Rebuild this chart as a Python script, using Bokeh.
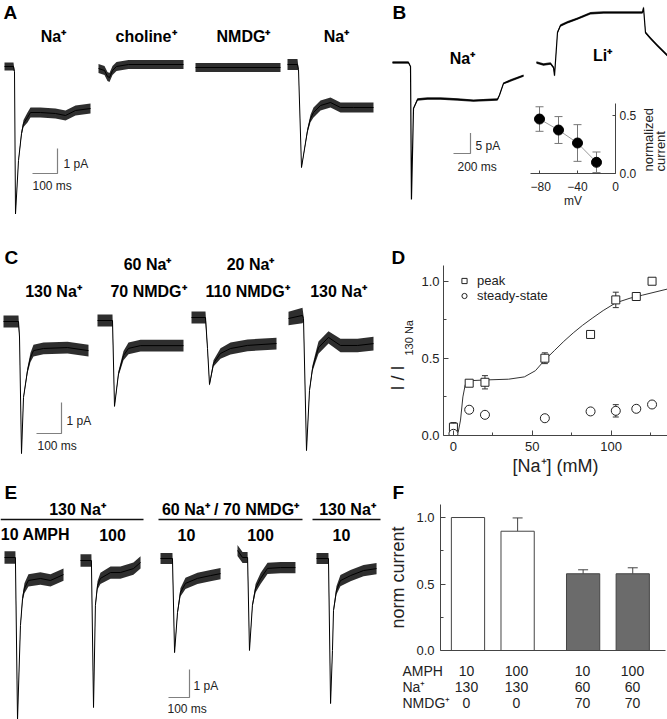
import math
from bokeh.plotting import figure
from bokeh.layouts import row, column
from bokeh.models import (Range1d, FixedTicker, NumeralTickFormatter, Whisker, TeeHead,
                          ColumnDataSource, Legend, LegendItem)
from bokeh.core.properties import value
from bokeh.embed import file_html
from bokeh.resources import INLINE

FONT = "Liberation Sans"
S = 1.0

# ---------------- data ----------------
# traces: time (ms), current (pA), noise half-width (pA)
A1_t = [0, 36, 40, 44, 56, 68, 76, 92, 104, 144, 204, 244, 284, 344]
A1_i = [0, 0, -0.2, -5.9, -3.76, -2.68, -2.28, -2.04, -1.84, -1.84, -1.88, -1.96, -1.76, -1.68]
A1_n = [0.16, 0.16, 0.04, 0.02, 0.05, 0.1, 0.14, 0.2, 0.2, 0.2, 0.2, 0.2, 0.2, 0.2]
A2_t = [0, 24, 36, 44, 56, 72, 120, 340]
A2_i = [-0.08, -0.16, -0.4, -0.44, -0.16, 0.0, 0.08, 0.08]
A2_n = [0.18, 0.18, 0.18, 0.18, 0.18, 0.18, 0.18, 0.18]
A3_t = [0, 340]
A3_i = [0, 0]
A3_n = [0.18, 0.18]
A4_t = [0, 40, 44, 56, 80, 92, 104, 132, 172, 212, 264, 344]
A4_i = [0, 0, -0.2, -4.12, -2.64, -2.16, -1.92, -1.64, -1.52, -1.72, -1.72, -1.72]
A4_n = [0.22, 0.22, 0.04, 0.02, 0.1, 0.15, 0.2, 0.2, 0.2, 0.2, 0.2, 0.2]
A_ions = ["Na⁺", "choline⁺", "NMDG⁺", "Na⁺"]

BNa_t = [0, 188, 212, 223, 247, 294, 412, 565, 765, 953, 1235, 1258, 1306, 1388, 1541]
BNa_i = [0, 0, -1.0, -33.4, -11.2, -9.0, -8.8, -8.8, -9.0, -9.3, -9.0, -8.0, -5.1, -4.4, -3.2]
BNa_n = [0.3, 0.3, 0.1, 0.1, 0.15, 0.3, 0.3, 0.3, 0.3, 0.3, 0.3, 0.2, 0.2, 0.3, 0.3]
BLi_t = [0, 82, 165, 200, 212, 247, 282, 365, 482, 635, 788, 988, 1247, 1259, 1282, 1341, 1424, 1541]
BLi_i = [0, -0.5, -0.25, -1.2, -3.2, 7.3, 9.0, 9.8, 10.7, 12.0, 12.2, 12.2, 12.2, 13.4, 7.3, 5.9, 4.1, 1.7]
BLi_n = [0.3] * 18
B_ions = ["Na⁺", "Li⁺"]
inset_mV = [-80, -60, -40, -20]
inset_I = [0.466, 0.372, 0.261, 0.096]
inset_err = [0.105, 0.115, 0.157, 0.088]

C1_t = [0, 60, 64, 72, 80, 96, 108, 120, 160, 256, 340]
C1_i = [0, 0, -0.5, -4.26, -2.45, -1.58, -1.16, -0.94, -0.87, -0.84, -0.94]
C1_n = [0.19, 0.19, 0.05, 0.02, 0.05, 0.1, 0.15, 0.19, 0.19, 0.19, 0.19]
C2_t = [0, 60, 68, 84, 104, 124, 172, 344]
C2_i = [0, 0, -2.77, -1.71, -1.13, -0.9, -0.81, -0.81]
C2_n = [0.19, 0.19, 0.02, 0.08, 0.15, 0.19, 0.19, 0.19]
C3_t = [0, 56, 64, 72, 88, 116, 156, 224, 340]
C3_i = [0, 0, -1.0, -2.16, -1.48, -1.16, -1.0, -0.9, -0.84]
C3_n = [0.19, 0.19, 0.08, 0.04, 0.1, 0.17, 0.19, 0.19, 0.19]
C4_t = [0, 56, 60, 72, 84, 96, 108, 120, 160, 208, 276, 340]
C4_i = [0, 0.1, 0, -4.26, -2.32, -1.61, -1.26, -0.94, -0.61, -0.87, -0.87, -0.81]
C4_n = [0.22, 0.25, 0.1, 0.02, 0.06, 0.1, 0.15, 0.2, 0.2, 0.22, 0.22, 0.22]
C_top = ["60 Na⁺", "20 Na⁺"]
C_bottom = ["130 Na⁺", "70 NMDG⁺", "110 NMDG⁺", "130 Na⁺"]

D_conc = [0, 10, 20, 58, 87, 103, 116, 126]
D_peak = [0.054, 0.339, 0.345, 0.501, 0.655, 0.879, 0.901, 1.0]
D_peak_err = [0.03, 0.0, 0.043, 0.035, 0.015, 0.05, 0.025, 0.0]
D_ss = [0.011, 0.167, 0.134, 0.112, 0.156, 0.160, 0.173, 0.201]
D_ss_err = [0.0, 0.02, 0.012, 0.012, 0.015, 0.04, 0.02, 0.015]
D_fit_x = [0, 3, 4.5, 6, 7.5, 10, 20, 35, 45, 52, 58, 64, 70, 76, 82, 88, 95, 103, 112, 120, 136]
D_fit_y = [0.0, 0.02, 0.1, 0.25, 0.33, 0.355, 0.36, 0.365, 0.38, 0.42, 0.49, 0.55, 0.61, 0.665,
           0.715, 0.76, 0.81, 0.86, 0.89, 0.91, 0.95]

E1_t = [0, 52, 62, 76, 86, 95, 114, 171, 219, 281]
E1_i = [0, 0, -5.8, -2.43, -1.46, -1.1, -0.82, -0.75, -0.82, -0.61]
E1_n = [0.22, 0.22, 0.02, 0.06, 0.12, 0.18, 0.22, 0.22, 0.22, 0.22]
E2_t = [0, 52, 62, 71, 81, 95, 143, 190, 252, 286]
E2_i = [0, 0, -5.25, -1.6, -0.89, -0.64, -0.43, -0.43, -0.29, -0.07]
E2_n = [0.22, 0.22, 0.02, 0.08, 0.15, 0.2, 0.22, 0.22, 0.22, 0.22]
E3_t = [0, 57, 67, 81, 95, 119, 176, 238, 286]
E3_i = [0, 0, -3.36, -1.93, -1.21, -0.89, -0.71, -0.61, -0.54]
E3_n = [0.2, 0.2, 0.02, 0.08, 0.15, 0.2, 0.2, 0.2, 0.2]
E4_t = [0, 24, 48, 57, 71, 86, 110, 143, 205, 276]
E4_i = [0.25, 0, 0, -3.32, -1.71, -1.1, -0.75, -0.39, -0.36, -0.36]
E4_n = [0.2, 0.2, 0.2, 0.02, 0.08, 0.15, 0.2, 0.2, 0.2, 0.2]
E5_t = [0, 57, 67, 76, 81, 95, 114, 162, 224, 286]
E5_i = [0, 0, -5.18, -3.29, -1.86, -1.14, -0.79, -0.61, -0.43, -0.36]
E5_n = [0.2, 0.2, 0.02, 0.04, 0.08, 0.15, 0.2, 0.2, 0.2, 0.2]
E_groups = ["130 Na⁺", "60 Na⁺ / 70 NMDG⁺", "130 Na⁺"]
E_amph = ["10 AMPH", "100", "10", "100", "10"]

F_pos = [0, 1, 2.32, 3.32]
F_val = [1.0, 0.897, 0.577, 0.577]
F_err = [0.0, 0.10, 0.03, 0.045]
F_fill = ["white", "white", "#6b6b6b", "#6b6b6b"]
F_rows = ["AMPH", "Na⁺", "NMDG⁺"]
F_amph = ["10", "100", "10", "100"]
F_na = ["130", "130", "60", "60"]
F_nmdg = ["0", "0", "70", "70"]


# ---------------- helpers ----------------
def span(a, b):
    return round(b * S) - round(a * S)


def fs(px):
    return "%.1fpx" % (px * S)


def new_fig(x0, y0, x1, y1, xr, yr, axes=False, **kw):
    opts = dict(width=span(x0, x1), height=span(y0, y1), x_range=xr, y_range=yr,
                output_backend="svg", toolbar_location=None, min_border=0, frame_align=False)
    if not axes:
        opts.update(x_axis_type=None, y_axis_type=None)
    opts.update(kw)
    p = figure(**opts)
    p.outline_line_color = None
    p.background_fill_color = "white"
    p.border_fill_color = "white"
    if axes:
        p.xgrid.visible = False
        p.ygrid.visible = False
    return p


class Panel:
    def __init__(self, x0, y0, x1, y1, mpp=1.0, ppp=1.0):
        self.x0, self.y0, self.mpp, self.ppp = x0, y0, mpp, ppp
        self.p = new_fig(x0, y0, x1, y1, Range1d(0, (x1 - x0) * mpp),
                         Range1d(-(y1 - y0) / ppp, 0))

    def X(self, xr):
        return (xr - self.x0) * self.mpp

    def Y(self, yr):
        return -(yr - self.y0) / self.ppp

    def trace(self, start, t, i, n, lw=1.0):
        bx, by = self.X(start[0]), self.Y(start[1])
        xs = [bx + v for v in t]
        ys = [by + v for v in i]
        lo = [by + v - w for v, w in zip(i, n)]
        hi = [by + v + w for v, w in zip(i, n)]
        self.p.varea(x=xs, y1=lo, y2=hi, fill_color="#000000", fill_alpha=0.82)
        self.p.line(xs, ys, line_color="#000000", line_width=lw)

    def text(self, xs, ys, txt, size, bold=False, align="left", angle=0.0, color="#000000"):
        self.p.text(x=[self.X(v) for v in xs], y=[self.Y(v) for v in ys], text=txt,
                    text_font=value(FONT), text_font_size=fs(size),
                    text_font_style="bold" if bold else "normal",
                    text_align=align, text_baseline="middle", angle=angle, text_color=color)

    def scalebar(self, corner, t_len, i_len, lab_i, pos_i, lab_t, pos_t):
        cx, cy = self.X(corner[0]), self.Y(corner[1])
        self.p.line([cx - t_len, cx, cx], [cy, cy, cy + i_len], line_color="#808080", line_width=1.2)
        self.text([pos_i[0]], [pos_i[1]], [lab_i], 12, color="#222222")
        self.text([pos_t[0]], [pos_t[1]], [lab_t], 12, color="#222222")


def style_axis(ax, size=13):
    ax.axis_line_color = "#444444"
    ax.major_tick_line_color = "#444444"
    ax.minor_tick_line_color = "#444444"
    ax.major_tick_in = 5
    ax.major_tick_out = 0
    ax.minor_tick_in = 3
    ax.minor_tick_out = 0
    ax.major_label_text_font = FONT
    ax.major_label_text_font_size = fs(size)
    ax.major_label_text_color = "#222222"
    ax.axis_label_text_font = FONT
    ax.axis_label_text_font_style = "normal"
    ax.axis_label_text_color = "#222222"


# ---------------- panel A ----------------
A = Panel(0, 0, 388, 235, mpp=4.0, ppp=25.0)
A.trace((4, 66), A1_t, A1_i, A1_n)
A.trace((98, 66), A2_t, A2_i, A2_n)
A.trace((195, 67), A3_t, A3_i, A3_n)
A.trace((287, 64), A4_t, A4_i, A4_n)
A.text([3], [11.5], ["A"], 19, bold=True)
A.text([53, 145.5, 243, 336], [35.5] * 4, A_ions, 16, bold=True, align="center")
A.scalebar((57, 173), 100, 1, "1 pA", (63, 163), "100 ms", (32, 185))

# ---------------- panel B ----------------
B_mpp, B_ppp = 200 / 17.0, 4.1
Bl = Panel(388, 0, 530, 235, mpp=B_mpp, ppp=B_ppp)
Bl.trace((392, 62), BNa_t, BNa_i, BNa_n, lw=1.2)
Bl.text([392], [11.5], ["B"], 19, bold=True)
Bl.text([462], [57.5], [B_ions[0]], 16, bold=True, align="center")
Bl.scalebar((470, 153), 200, 5, "5 pA", (475, 145), "200 ms", (457, 166))

Li = Panel(530, 0, 667, 95, mpp=B_mpp, ppp=B_ppp)
Li.trace((536, 62), BLi_t, BLi_i, BLi_n, lw=1.2)
Li.text([602], [55], [B_ions[1]], 16, bold=True, align="center")

pIn = new_fig(530, 95, 640, 235, Range1d(-89.5, 0.01), Range1d(0, 0.599), axes=True,
              y_axis_location="right", min_border_right=round(25 * S),
              min_border_bottom=round(62 * S), min_border_top=round(7.7 * S), min_border_left=0)
for ax in (pIn.xaxis[0], pIn.yaxis[0]):
    style_axis(ax, 12)
    ax.major_tick_in = 3
pIn.xaxis[0].ticker = FixedTicker(ticks=[-80, -40, 0], minor_ticks=[])
pIn.yaxis[0].ticker = FixedTicker(ticks=[0, 0.5], minor_ticks=[])
pIn.yaxis[0].formatter = NumeralTickFormatter(format="0.0")
pIn.xaxis[0].axis_label = "mV"
pIn.xaxis[0].axis_label_text_font_size = fs(12)
pIn.xaxis[0].major_label_standoff = 8
pIn.xaxis[0].axis_label_standoff = 0
pIn.yaxis[0].major_label_standoff = 4
src_in = ColumnDataSource(dict(x=inset_mV, y=inset_I,
                               lo=[a - b for a, b in zip(inset_I, inset_err)],
                               hi=[a + b for a, b in zip(inset_I, inset_err)]))
pIn.line("x", "y", source=src_in, line_color="#9a9a9a", line_width=1)
pIn.add_layout(Whisker(source=src_in, base="x", lower="lo", upper="hi", line_color="#777777",
                       upper_head=TeeHead(size=8, line_color="#777777"),
                       lower_head=TeeHead(size=8, line_color="#777777")))
pIn.scatter("x", "y", source=src_in, size=10 * S, fill_color="black", line_color="black")

InL = Panel(640, 95, 667, 235)
InL.text([648], [171], ["normalized"], 13, angle=math.pi / 2, color="#222222")
InL.text([660], [171], ["current"], 13, angle=math.pi / 2, color="#222222")

# ---------------- panel C ----------------
C = Panel(0, 235, 380, 480, mpp=4.0, ppp=31.0)
C.trace((3, 321), C1_t, C1_i, C1_n)
C.trace((97, 320), C2_t, C2_i, C2_n)
C.trace((191, 317), C3_t, C3_i, C3_n)
C.trace((288, 318), C4_t, C4_i, C4_n)
C.text([4], [257], ["C"], 19, bold=True)
C.text([147, 250], [263.5, 263.5], C_top, 16, bold=True, align="center")
C.text([53, 148, 247, 338], [291] * 4, C_bottom, 16, bold=True, align="center")
C.scalebar((61, 433), 100, 1, "1 pA", (66, 420), "100 ms", (37, 445))

# ---------------- panel D ----------------
DL = Panel(380, 235, 418, 480)
DL.text([391], [256.5], ["D"], 19, bold=True)
DL.text([397.5], [390], ["I / I"], 18, angle=math.pi / 2, color="#222222")
DL.text([408.5], [355], ["130 Na"], 11, angle=math.pi / 2, color="#222222")

pD = new_fig(418, 235, 667, 480, Range1d(-6.3, 135.8), Range1d(0, 1.102), axes=True,
             min_border_left=round(23.7 * S), min_border_top=round(30 * S),
             min_border_bottom=round(45 * S), min_border_right=0)
style_axis(pD.xaxis[0])
style_axis(pD.yaxis[0])
pD.xaxis[0].ticker = FixedTicker(ticks=[0, 50, 100], minor_ticks=[25, 75, 125])
pD.yaxis[0].ticker = FixedTicker(ticks=[0, 0.5, 1.0], minor_ticks=[0.25, 0.75])
pD.yaxis[0].formatter = NumeralTickFormatter(format="0.0")
pD.yaxis[0].major_label_standoff = 4
pD.xaxis[0].major_label_standoff = 6
pD.xaxis[0].axis_label = "[Na⁺] (mM)"
pD.xaxis[0].axis_label_text_font_size = fs(18)
pD.xaxis[0].axis_label_standoff = 2
pD.line(D_fit_x, D_fit_y, line_color="#333333", line_width=1)
for vals, errs in ((D_peak, D_peak_err), (D_ss, D_ss_err)):
    keep = [k for k, e in enumerate(errs) if e > 0]
    s = ColumnDataSource(dict(x=[D_conc[k] for k in keep],
                              lo=[vals[k] - errs[k] for k in keep],
                              hi=[vals[k] + errs[k] for k in keep]))
    pD.add_layout(Whisker(source=s, base="x", lower="lo", upper="hi", line_color="#333333",
                          upper_head=TeeHead(size=6, line_color="#333333"),
                          lower_head=TeeHead(size=6, line_color="#333333")))
r_peak = pD.scatter(D_conc, D_peak, marker="square", size=8 * S, fill_color="white",
                    line_color="#222222", line_width=1)
r_ss = pD.scatter(D_conc, D_ss, marker="circle", size=9 * S, fill_color="white",
                  line_color="#222222", line_width=1)
leg = Legend(items=[LegendItem(label="peak", renderers=[r_peak]),
                    LegendItem(label="steady-state", renderers=[r_ss])],
             location="top_left", border_line_color=None, background_fill_alpha=0,
             margin=8, padding=4, spacing=0, glyph_width=26, glyph_height=13,
             label_standoff=0, label_height=13, label_text_font=FONT,
             label_text_font_size=fs(13), label_text_color="#222222")
pD.add_layout(leg)

# ---------------- panel E ----------------
E = Panel(0, 480, 385, 719, mpp=100 / 21.0, ppp=28.0)
E.trace((4, 557), E1_t, E1_i, E1_n)
E.trace((80, 560), E2_t, E2_i, E2_n)
E.trace((160, 558), E3_t, E3_i, E3_n)
E.trace((237, 557), E4_t, E4_i, E4_n)
E.trace((316, 558), E5_t, E5_i, E5_n)
E.text([4], [491.5], ["E"], 19, bold=True)
E.text([77, 230, 347], [509] * 3, E_groups, 16, bold=True, align="center")
for a, b in ((0, 143), (158, 302), (312, 380)):
    E.p.line([E.X(a), E.X(b)], [E.Y(519), E.Y(519)], line_color="#111111", line_width=1.5)
E.text([35, 112, 186, 260, 341], [534] * 5, E_amph, 16, bold=True, align="center")
E.scalebar((189, 697), 100, 1, "1 pA", (193, 685), "100 ms", (167, 708))

# ---------------- panel F ----------------
Fh = Panel(385, 480, 667, 504)
Fh.text([392], [491.5], ["F"], 19, bold=True)

pF = new_fig(385, 504, 667, 660, Range1d(-0.554, 3.98), Range1d(0, 1.098), axes=True,
             min_border_left=round(53.3 * S), min_border_top=0,
             min_border_bottom=round(10 * S), min_border_right=round(2 * S))
style_axis(pF.xaxis[0])
style_axis(pF.yaxis[0])
pF.xaxis[0].ticker = FixedTicker(ticks=[], minor_ticks=[])
pF.yaxis[0].ticker = FixedTicker(ticks=[0, 0.5, 1.0], minor_ticks=[0.25, 0.75])
pF.yaxis[0].formatter = NumeralTickFormatter(format="0.0")
pF.yaxis[0].major_label_standoff = 6
pF.yaxis[0].axis_label = "norm current"
pF.yaxis[0].axis_label_text_font_size = fs(18)
pF.yaxis[0].axis_label_standoff = 5
srcF = ColumnDataSource(dict(x=F_pos, top=F_val, fill=F_fill))
pF.vbar(x="x", top="top", width=0.67, source=srcF, fill_color="fill", line_color="#444444",
        line_width=1)
keepF = [k for k, e in enumerate(F_err) if e > 0]
srcFe = ColumnDataSource(dict(x=[F_pos[k] for k in keepF], lo=[F_val[k] for k in keepF],
                              hi=[F_val[k] + F_err[k] for k in keepF]))
pF.add_layout(Whisker(source=srcFe, base="x", lower="lo", upper="hi", line_color="#444444",
                      upper_head=TeeHead(size=10, line_color="#444444"), lower_head=None))

Ft = new_fig(385, 660, 667, 719, Range1d(-1.62, 4.02), Range1d(64, 5))
for rowvals, yy in ((F_amph, 15.5), (F_na, 31.5), (F_nmdg, 47.5)):
    Ft.text(x=F_pos, y=[yy] * 4, text=rowvals, text_font=value(FONT), text_font_size=fs(14),
            text_align="center", text_baseline="middle", text_color="#222222")
Ft.text(x=[-1.28] * 3, y=[15.5, 31.5, 47.5], text=F_rows, text_font=value(FONT),
        text_font_size=fs(14), text_align="left", text_baseline="middle", text_color="#222222")

layout = column(
    row(A.p, Bl.p, column(Li.p, row(pIn, InL.p))),
    row(C.p, DL.p, pD),
    row(E.p, column(Fh.p, pF, Ft)),
)

open("out.html", "w").write(file_html(layout, INLINE))
